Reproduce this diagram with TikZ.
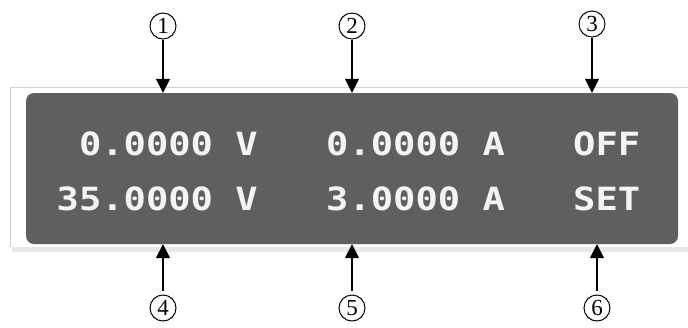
\documentclass[tikz,border=0pt]{standalone}
\usepackage{fontspec}
\setmainfont{Liberation Serif}
\newfontfamily\lcdfont{DejaVu Sans Mono}[FakeStretch=1.16]
\usetikzlibrary{arrows.meta}
\definecolor{lcdbg}{HTML}{5F5F5F}
\definecolor{lcdtxt}{HTML}{F4F4F4}
\definecolor{rimgray}{HTML}{CFCFCF}
\begin{document}
\begin{tikzpicture}[x=1pt,y=-1pt,
  lcd/.style={font=\lcdfont\bfseries\fontsize{32}{32}\selectfont, text=lcdtxt, inner sep=0},
  callout/.style={circle, draw, line width=1pt, inner sep=0, minimum size=26pt, font=\fontsize{23}{23}\selectfont},
  pointer/.style={line width=1.6pt, -{Triangle[width=14pt,length=14pt]}}]
\useasboundingbox (0,0) rectangle (688,327);
% outer bezel
\fill[gray!18] (12,247) rectangle (700,252);
\fill[white] (10,87) rectangle (700,247);
\draw[rimgray, line width=1pt] (10.5,247) -- (10.5,87.5) -- (700,87.5);
% display
\node (panel) [fill=lcdbg, rounded corners=8pt, minimum width=652pt, minimum height=151pt, inner sep=0] at (352,168.5) {};
% texts
\node (v1) [lcd, anchor=base east] at (258,155) {0.0000 V};
\node (v2) [lcd, anchor=base east] at (258,210) {35.0000 V};
\node (a1) [lcd, anchor=base west] at (326,155) {0.0000 A};
\node (a2) [lcd, anchor=base west] at (326,210) {3.0000 A};
\node (s1) [lcd, anchor=base west] at (573,155) {OFF};
\node (s2) [lcd, anchor=base west] at (573,210) {SET};
% callouts
\node (c1) [callout] at (163,26) {1};
\node (c2) [callout] at (352,26) {2};
\node (c3) [callout] at (592,24) {3};
\node (c4) [callout] at (163,308) {4};
\node (c5) [callout] at (352,308) {5};
\node (c6) [callout] at (597,308) {6};
\draw[pointer] (c1.south) -- (c1.south |- panel.north);
\draw[pointer] (c2.south) -- (c2.south |- panel.north);
\draw[pointer] (c3.south) -- (c3.south |- panel.north);
\draw[pointer, shorten <=4pt] (c4.north) -- (c4.north |- panel.south);
\draw[pointer, shorten <=4pt] (c5.north) -- (c5.north |- panel.south);
\draw[pointer, shorten <=4pt] (c6.north) -- (c6.north |- panel.south);
\end{tikzpicture}
\end{document}
